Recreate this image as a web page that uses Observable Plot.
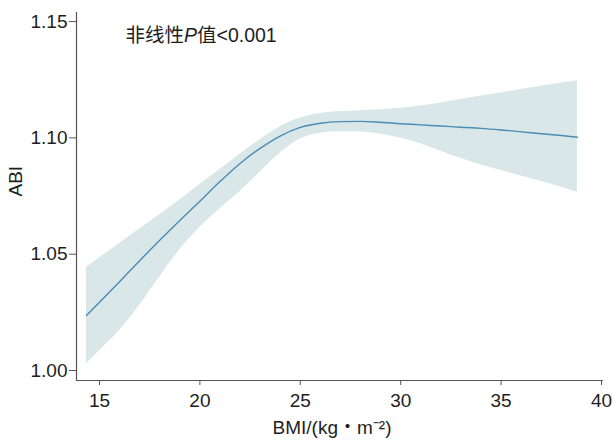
<!DOCTYPE html>
<html>
<head>
<meta charset="utf-8">
<script src="https://cdn.jsdelivr.net/npm/d3@7"></script>
<script src="https://cdn.jsdelivr.net/npm/@observablehq/plot@0.6"></script>
<style>
  html, body { margin: 0; padding: 0; background: #fff; }
  #chart { width: 614px; height: 442px; }
</style>
</head>
<body>
<div id="chart"></div>
<script>
// BMI positions (kg/m^2)
const bmi = [14.35, 15, 16, 17, 18, 19, 20, 21, 22, 23, 24, 25, 26, 27, 28, 29, 30, 31, 32, 33, 34, 35, 36, 37, 38, 38.8];
// Fitted ABI
const abi = [1.0236, 1.0293, 1.0382, 1.0472, 1.0560, 1.0645, 1.0728, 1.0812, 1.0890, 1.0955, 1.1008, 1.1045, 1.1063, 1.1070, 1.1071, 1.1067, 1.1061, 1.1056, 1.1051, 1.1046, 1.1041, 1.1034, 1.1026, 1.1018, 1.1010, 1.1003];
// 95% CI lower / upper
const lower = [1.0029, 1.0085, 1.0172, 1.0281, 1.0402, 1.0520, 1.0615, 1.0695, 1.0770, 1.0852, 1.0935, 1.0995, 1.1020, 1.1026, 1.1025, 1.1016, 1.1000, 1.0975, 1.0943, 1.0912, 1.0883, 1.0860, 1.0836, 1.0812, 1.0788, 1.0766];
const upper = [1.0444, 1.0484, 1.0546, 1.0608, 1.0670, 1.0733, 1.0800, 1.0864, 1.0930, 1.0992, 1.1048, 1.1085, 1.1105, 1.1113, 1.1117, 1.1121, 1.1127, 1.1137, 1.1150, 1.1165, 1.1180, 1.1193, 1.1208, 1.1222, 1.1236, 1.1246];

const xTicks = [15, 20, 25, 30, 35, 40];
const yTicks = [1.00, 1.05, 1.10, 1.15];
const xDomain = [13.855, 40.1];
const yDomain = [0.9957, 1.1539];

const xLabel = "BMI/(kg・m⁻²)";
const yLabel = "ABI";
const note = "非线性P值<0.001";

const data = bmi.map((b, i) => ({bmi: b, abi: abi[i], lo: lower[i], hi: upper[i]}));

const axisColor = "#555";
const textColor = "#1e1e1e";
const fs = 19;

const chart = Plot.plot({
  width: 614,
  height: 442,
  marginLeft: 76,
  marginRight: 11,
  marginTop: 12,
  marginBottom: 62,
  style: {
    fontFamily: "'Liberation Sans', Arial, 'Noto Sans CJK SC', sans-serif",
    fontSize: fs + "px",
    background: "#fff",
    color: textColor
  },
  x: {domain: xDomain},
  y: {domain: yDomain},
  marks: [
    Plot.areaY(data, {x: "bmi", y1: "lo", y2: "hi", fill: "#d9e7e9", curve: "monotone-x"}),
    Plot.lineY(data, {x: "bmi", y: "abi", stroke: "#4a8cb3", strokeWidth: 1.4, curve: "monotone-x"}),
    Plot.ruleX([xDomain[0]], {stroke: axisColor, strokeWidth: 1.2}),
    Plot.ruleY([yDomain[0]], {stroke: axisColor, strokeWidth: 1.2}),
    Plot.axisX({ticks: xTicks, tickSize: 5, tickPadding: 8, stroke: axisColor, fill: textColor, label: null, fontSize: fs}),
    Plot.axisY({ticks: yTicks, tickSize: 7, tickPadding: 2, tickFormat: d3.format(".2f"), stroke: axisColor, fill: textColor, label: null, fontSize: fs}),
    Plot.text([xLabel], {frameAnchor: "bottom", dx: -8, dy: 47, fontSize: fs, fill: textColor, lineAnchor: "middle"}),
    Plot.text([yLabel], {frameAnchor: "left", dx: -61, rotate: -90, fontSize: fs, fill: textColor, lineAnchor: "middle"}),
    Plot.text([note], {frameAnchor: "top-left", dx: 49, dy: 23, textAnchor: "start", lineAnchor: "middle", fontSize: 19.5, fill: textColor})
  ]
});

document.getElementById("chart").appendChild(chart);

// Italicise the "P" in the annotation, keeping it as real text
chart.querySelectorAll("text").forEach(t => {
  if (t.textContent === note) {
    const parts = [["非线性", "normal"], ["P", "italic"], ["值<0.001", "normal"]];
    t.textContent = "";
    for (const [s, st] of parts) {
      const ts = document.createElementNS("http://www.w3.org/2000/svg", "tspan");
      ts.textContent = s;
      ts.setAttribute("font-style", st);
      t.appendChild(ts);
    }
  }
});
</script>
</body>
</html>
